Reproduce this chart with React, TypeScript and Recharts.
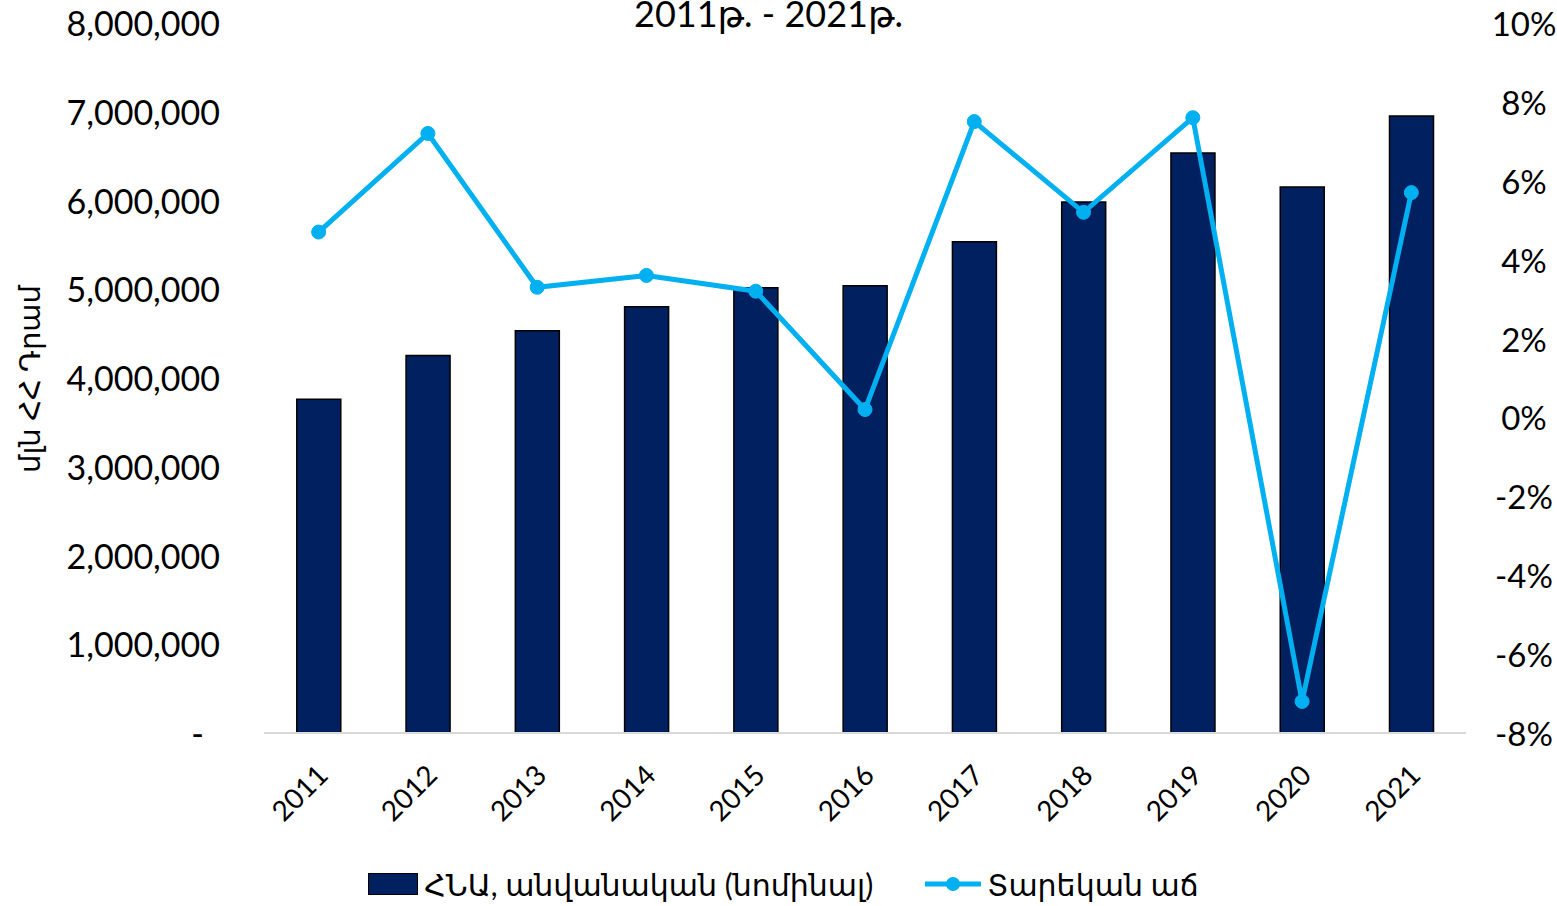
import { ComposedChart, Bar, Line, XAxis, YAxis, Legend } from 'recharts';

const years = ['2011', '2012', '2013', '2014', '2015', '2016', '2017', '2018', '2019', '2020', '2021'];
const gdpNominal = [3760000, 4253000, 4533000, 4803000, 5017000, 5039000, 5534000, 5984000, 6535000, 6153000, 6952000];
const growth = [0.047, 0.072, 0.033, 0.036, 0.032, 0.002, 0.075, 0.052, 0.076, -0.072, 0.057];
const leftTicks = [0, 1000000, 2000000, 3000000, 4000000, 5000000, 6000000, 7000000, 8000000];
const rightTicks = [-0.08, -0.06, -0.04, -0.02, 0, 0.02, 0.04, 0.06, 0.08, 0.1];

const barName = 'ՀՆԱ, անվանական (նոմինալ)';
const lineName = 'Տարեկան աճ';
const title = '2011թ. - 2021թ.';
const yLabel = 'մլն ՀՀ Դրամ';

const FONT = "Lato, 'DejaVu Sans', sans-serif";
const NAVY = '#002060';
const BLUE = '#00B0F0';

const data = years.map((y, i) => ({ year: y, gdp: gdpNominal[i], growth: growth[i] }));

function LeftTick({ x, y, payload }: any) {
  const v = payload.value;
  const label = v === 0 ? '-' : v.toLocaleString('en-US');
  // zero shows as an accounting dash, sitting a bit left of the numbers
  return (
    <text x={v === 0 ? x - 52 : x - 36} y={y} dy={13} textAnchor="end" fontSize={34} fill="#000" fontFamily={FONT}>
      {label}
    </text>
  );
}

function RightTick({ x, y, payload }: any) {
  return (
    <text x={x + 50} y={y} dy={13} textAnchor="middle" fontSize={33} fill="#000" fontFamily={FONT}>
      {Math.round(payload.value * 100) + '%'}
    </text>
  );
}

function XTick({ x, y, payload }: any) {
  return (
    <g transform={`translate(${x + 11},${y + 36})`}>
      <text textAnchor="end" transform="rotate(-45)" fontSize={28} fill="#000" fontFamily={FONT}>
        {payload.value}
      </text>
    </g>
  );
}

function YLabel() {
  return (
    <text x={40} y={379} transform="rotate(-90, 40, 379)" textAnchor="middle" fontSize={29} fill="#000" fontFamily={FONT}>
      {yLabel}
    </text>
  );
}

function LegendContent() {
  return (
    <div style={{ display: 'flex', justifyContent: 'center', alignItems: 'center', height: 56, paddingTop: 6, fontFamily: FONT, fontSize: 30 }}>
      <div style={{ display: 'flex', alignItems: 'center', marginRight: 52, marginLeft: 10 }}>
        <span style={{ display: 'inline-block', width: 48, height: 20, background: NAVY, border: '1px solid #000', marginRight: 6 }} />
        <span>{barName}</span>
      </div>
      <div style={{ display: 'flex', alignItems: 'center' }}>
        <svg width={56} height={20} style={{ marginRight: 6 }}>
          <line x1={0} y1={10} x2={56} y2={10} stroke={BLUE} strokeWidth={5} />
          <circle cx={28} cy={10} r={7} fill={BLUE} />
        </svg>
        <span>{lineName}</span>
      </div>
    </div>
  );
}

export default function App() {
  return (
    <div style={{ position: 'absolute', left: 0, top: 0, width: 1557, height: 906, background: '#fff', overflow: 'hidden' }}>
      <div style={{ position: 'absolute', left: 0, width: 1537, top: -7, textAlign: 'center', fontFamily: FONT, fontSize: 36, lineHeight: '40px' }}>
        {title}
      </div>
      <ComposedChart width={1557} height={906} data={data} margin={{ top: 23, right: 0, left: 0, bottom: 0 }} barCategoryGap="30%">
        <XAxis
          dataKey="year"
          height={117}
          tick={<XTick />}
          tickLine={false}
          axisLine={{ stroke: '#d9d9d9', strokeWidth: 2 }}
          interval={0}
        />
        <YAxis
          yAxisId="left"
          width={264}
          domain={[0, 8000000]}
          ticks={leftTicks}
          tick={<LeftTick />}
          tickLine={false}
          axisLine={false}
          label={<YLabel />}
        />
        <YAxis
          yAxisId="right"
          orientation="right"
          width={91}
          domain={[-0.08, 0.1]}
          ticks={rightTicks}
          tick={<RightTick />}
          tickLine={false}
          axisLine={false}
        />
        <Legend verticalAlign="bottom" height={56} content={<LegendContent />} />
        <Bar yAxisId="left" dataKey="gdp" name={barName} fill={NAVY} stroke="#000" strokeWidth={1.5} isAnimationActive={false} />
        <Line
          yAxisId="right"
          dataKey="growth"
          name={lineName}
          stroke={BLUE}
          strokeWidth={5}
          dot={{ r: 7, fill: BLUE, stroke: BLUE, strokeWidth: 1 }}
          activeDot={false}
          isAnimationActive={false}
        />
      </ComposedChart>
    </div>
  );
}
